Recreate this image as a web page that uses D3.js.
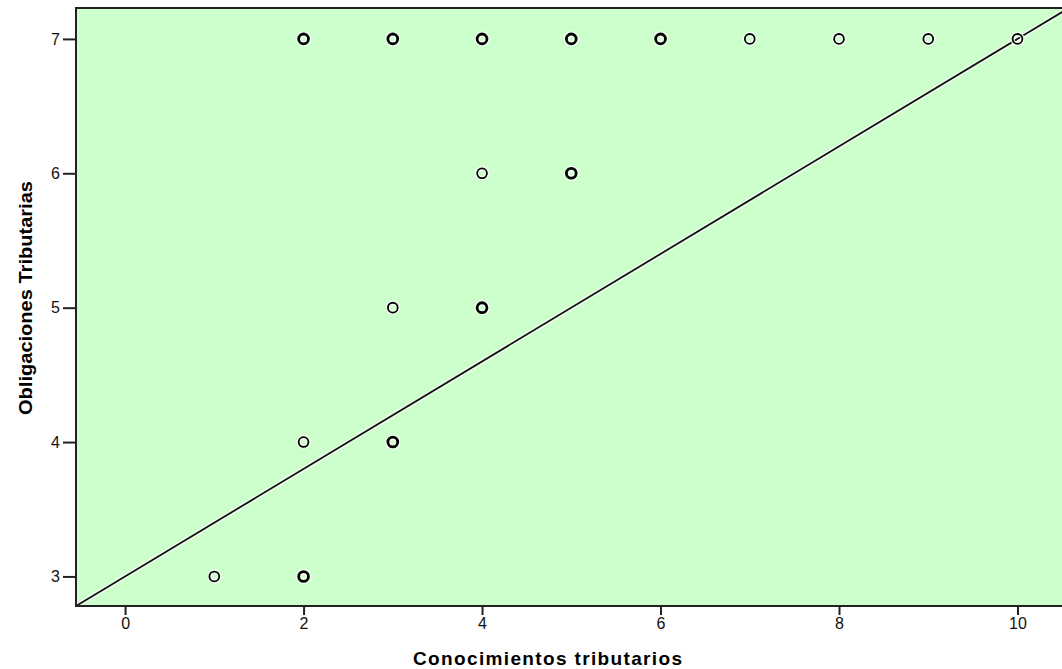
<!DOCTYPE html>
<html>
<head>
<meta charset="utf-8">
<script src="https://cdn.jsdelivr.net/npm/d3@7"></script>
<style>
  html, body { margin: 0; padding: 0; background: #ffffff; }
  svg { display: block; }
</style>
</head>
<body>
<svg id="chart" width="1062" height="669"></svg>
<script>
// Scatter of tax knowledge vs. tax obligations, with a reference line.
const conocimientos = [1, 2, 2, 3, 3, 4, 4, 5, 2, 3, 4, 5, 6, 7, 8, 9, 10];
const obligaciones  = [3, 3, 4, 4, 5, 5, 6, 6, 7, 7, 7, 7, 7, 7, 7, 7, 7];
const frecuencia    = [1, 2, 1, 2, 1, 2, 1, 2, 2, 2, 2, 2, 2, 1, 1, 1, 1];
const xTicks = [0, 2, 4, 6, 8, 10];
const yTicks = [3, 4, 5, 6, 7];
const lineIntercept = 3;
const lineSlope = 0.4;
const xTitle = "Conocimientos tributarios";
const yTitle = "Obligaciones Tributarias";

const svg = d3.select("#chart");
const plotL = 76, plotT = 8, plotR = 1063, plotB = 606;

const x = d3.scaleLinear().domain([-0.55, 10.51]).range([plotL, plotR]);
const y = d3.scaleLinear().domain([2.78, 7.23]).range([plotB, plotT]);

// plot background
svg.append("rect")
  .attr("x", plotL).attr("y", plotT)
  .attr("width", plotR - plotL).attr("height", plotB - plotT)
  .attr("fill", "#ccffcc");

svg.append("clipPath").attr("id", "plotClip")
  .append("rect")
  .attr("x", plotL).attr("y", plotT)
  .attr("width", plotR - plotL).attr("height", plotB - plotT);

// reference line y = a + b x across the x range
const xd = x.domain();
const linePts = xd.map(v => [v, lineIntercept + lineSlope * v]);
const lineGen = d3.line().x(d => x(d[0])).y(d => y(d[1]));
const lg = svg.append("g").attr("clip-path", "url(#plotClip)");
lg.append("path").attr("d", lineGen(linePts))
  .attr("fill", "none").attr("stroke", "#ffffff").attr("stroke-opacity", 0.7).attr("stroke-width", 4.5);
lg.append("path").attr("d", lineGen(linePts))
  .attr("fill", "none").attr("stroke", "#111111").attr("stroke-width", 1.8);

// points (hollow circles, heavier where several cases coincide)
const pts = conocimientos.map((c, i) => ({ cx: c, cy: obligaciones[i], n: frecuencia[i] }));
const pg = svg.append("g");
pg.selectAll("circle.halo").data(pts).join("circle")
  .attr("class", "halo")
  .attr("cx", d => x(d.cx)).attr("cy", d => y(d.cy)).attr("r", 4.9)
  .attr("fill", "none").attr("stroke", "#ffffff").attr("stroke-opacity", 0.75)
  .attr("stroke-width", d => d.n > 1 ? 5.5 : 4.5);
pg.selectAll("circle.pt").data(pts).join("circle")
  .attr("class", "pt")
  .attr("cx", d => x(d.cx)).attr("cy", d => y(d.cy)).attr("r", 4.9)
  .attr("fill", "none").attr("stroke", "#000000")
  .attr("stroke-width", d => d.n > 1 ? 2.8 : 1.8);

// frame: left, top, bottom
svg.append("path")
  .attr("d", `M${plotR},${plotT}H${plotL}V${plotB}H${plotR}`)
  .attr("fill", "none").attr("stroke", "#222222").attr("stroke-width", 2);

// axes
const xAxis = d3.axisBottom(x).tickValues(xTicks).tickSize(9).tickPadding(3).tickFormat(d3.format("d"));
const gx = svg.append("g").attr("transform", `translate(0,${plotB})`).call(xAxis);
gx.select(".domain").remove();
gx.selectAll(".tick line").attr("stroke", "#222").attr("stroke-width", 2);
gx.selectAll(".tick text")
  .attr("font-family", "'Liberation Sans', Arial, sans-serif")
  .attr("font-size", 16).attr("fill", "#111");

const yAxis = d3.axisLeft(y).tickValues(yTicks).tickSize(13).tickPadding(3).tickFormat(d3.format("d"));
const gy = svg.append("g").attr("transform", `translate(${plotL},0)`).call(yAxis);
gy.select(".domain").remove();
gy.selectAll(".tick line").attr("stroke", "#222").attr("stroke-width", 2);
gy.selectAll(".tick text")
  .attr("font-family", "'Liberation Sans', Arial, sans-serif")
  .attr("font-size", 16).attr("fill", "#111");

// axis titles
svg.append("text")
  .attr("x", 413).attr("y", 665)
  .attr("font-family", "'Liberation Sans', Arial, sans-serif")
  .attr("font-weight", "bold").attr("font-size", 19).attr("fill", "#000")
  .attr("textLength", 269).attr("lengthAdjust", "spacing")
  .text(xTitle);

svg.append("text")
  .attr("transform", "translate(32,298) rotate(-90)")
  .attr("text-anchor", "middle")
  .attr("font-family", "'Liberation Sans', Arial, sans-serif")
  .attr("font-weight", "bold").attr("font-size", 18).attr("fill", "#000")
  .attr("textLength", 234).attr("lengthAdjust", "spacingAndGlyphs")
  .text(yTitle);
</script>
</body>
</html>
